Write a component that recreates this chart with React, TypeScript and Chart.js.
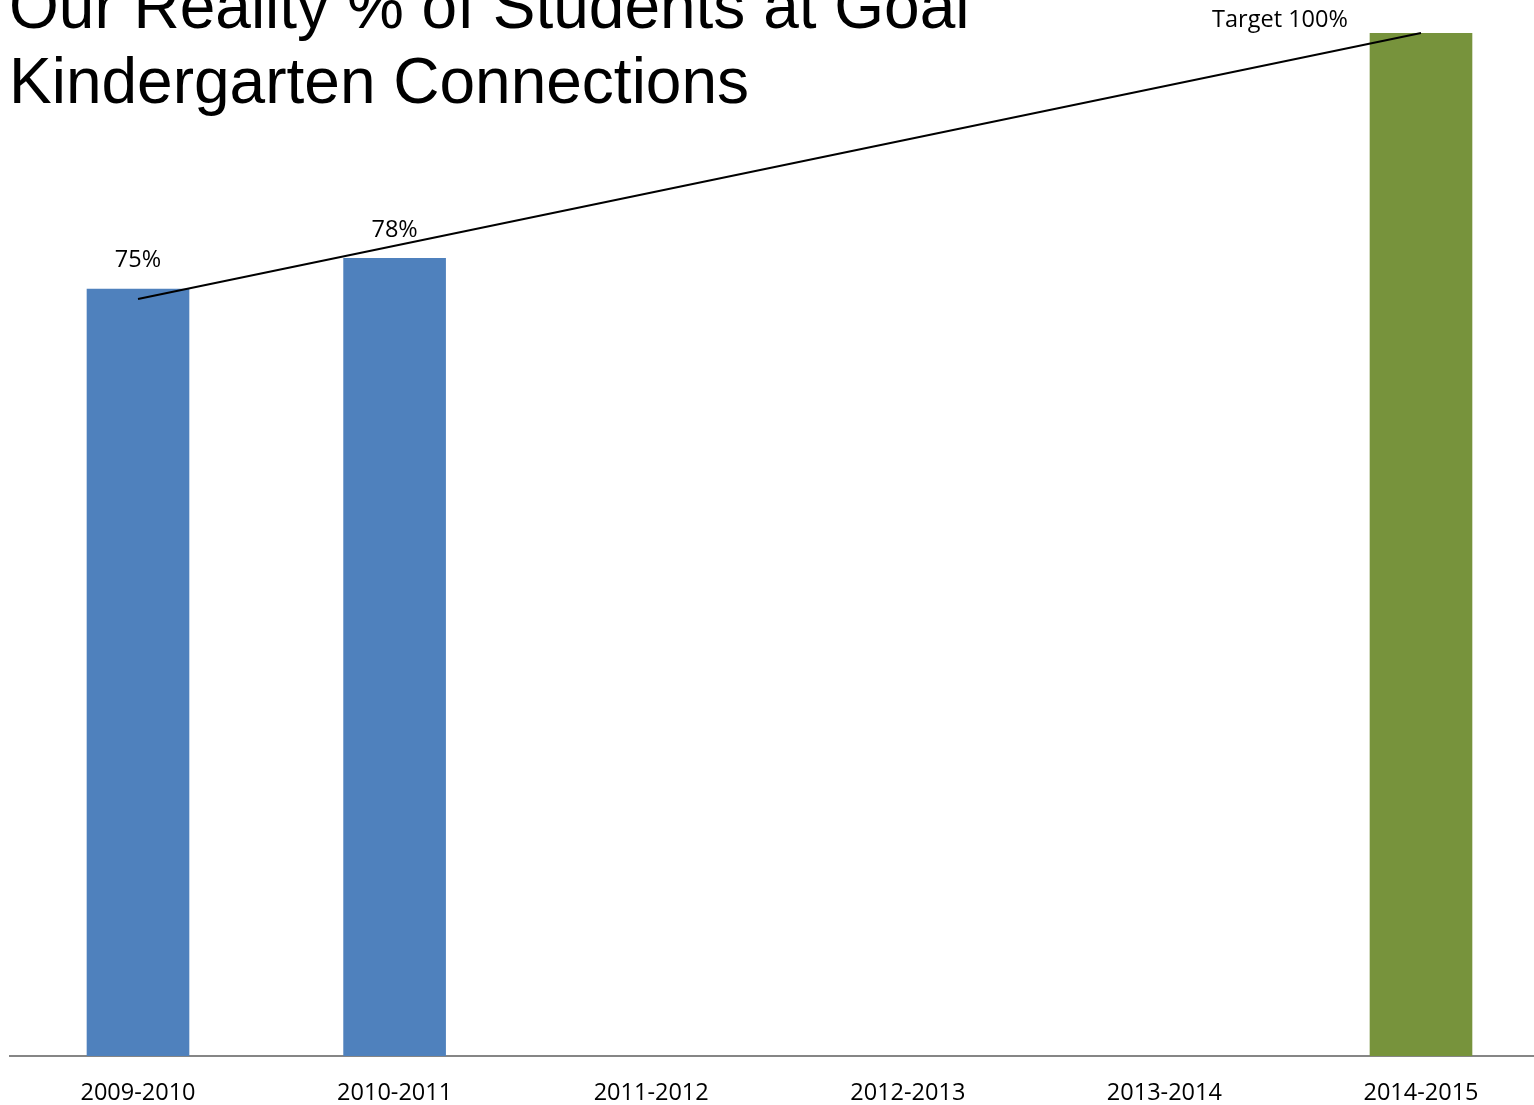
import React, { useEffect, useRef } from "react";
import { Chart, registerables } from "chart.js";

Chart.register(...registerables);

const titleLines = ["Our Reality % of Students at Goal", "Kindergarten Connections"];
const categories = ["2009-2010", "2010-2011", "2011-2012", "2012-2013", "2013-2014", "2014-2015"];
const barValues: (number | null)[] = [75, 78, null, null, null, 100];
const barColors = ["#4F81BD", "#4F81BD", "#4F81BD", "#4F81BD", "#4F81BD", "#77933C"];
const trendValues: (number | null)[] = [74, null, null, null, null, 100];
const barLabels = ["75%", "78%", "", "", "", "Target 100%"];

const labelFont = "'Open Sans', 'Liberation Sans', sans-serif";

const labelPlugin = {
  id: "barLabels",
  afterDatasetsDraw(chart: any) {
    const ctx = chart.ctx;
    const meta = chart.getDatasetMeta(1);
    ctx.save();
    ctx.font = `23.5px ${labelFont}`;
    ctx.fillStyle = "#000";
    ctx.textAlign = "center";
    ctx.textBaseline = "middle";
    meta.data.forEach((el: any, i: number) => {
      const txt = barLabels[i];
      if (!txt || barValues[i] == null) return;
      const last = i === categories.length - 1;
      const x = el.x + (last ? -141 : 0);
      const y = el.y + (last ? -13 : -28);
      ctx.fillText(txt, x, y);
    });
    ctx.restore();
  },
};

export default function App() {
  const ref = useRef<HTMLCanvasElement>(null);
  useEffect(() => {
    if (!ref.current) return;
    const chart = new Chart(ref.current, {
      type: "bar",
      data: {
        labels: categories,
        datasets: [
          {
            type: "line",
            label: "Trend",
            data: trendValues,
            borderColor: "#000",
            borderWidth: 2,
            pointRadius: 0,
            spanGaps: true,
            fill: false,
            order: 0,
            clip: false,
          } as any,
          {
            type: "bar",
            label: "Reality",
            data: barValues,
            backgroundColor: barColors,
            categoryPercentage: 1,
            barPercentage: 0.4,
            order: 1,
          },
        ],
      },
      options: {
        responsive: false,
        animation: false,
        layout: { padding: { left: 9.7, right: 10.7, top: 33, bottom: 0 } },
        plugins: { legend: { display: false }, tooltip: { enabled: false }, title: { display: false } },
        scales: {
          x: {
            grid: { display: false, drawTicks: false },
            border: { display: true, color: "#868686", width: 2 },
            ticks: { color: "#000", font: { family: labelFont, size: 23.5 }, padding: 23, maxRotation: 0 },
            afterFit: (scale: any) => {
              scale.height = 49;
            },
          },
          y: { display: false, min: 0, max: 100 },
        },
      },
      plugins: [labelPlugin],
    });
    return () => chart.destroy();
  }, []);

  return (
    <div
      style={{
        position: "absolute",
        left: 0,
        top: 0,
        width: 1534,
        height: 1105,
        overflow: "hidden",
        background: "#fff",
      }}
    >
      <canvas
        ref={ref}
        width={1560}
        height={1105}
        style={{ position: "absolute", left: 0, top: 0, width: 1560, height: 1105 }}
      />
      <div
        style={{
          position: "absolute",
          left: 9,
          top: -31,
          fontFamily: "'Liberation Sans', Arial, sans-serif",
          fontSize: 64,
          lineHeight: "75px",
          color: "#000",
          whiteSpace: "nowrap",
        }}
      >
        {titleLines.map((t) => (
          <div key={t}>{t}</div>
        ))}
      </div>
    </div>
  );
}
